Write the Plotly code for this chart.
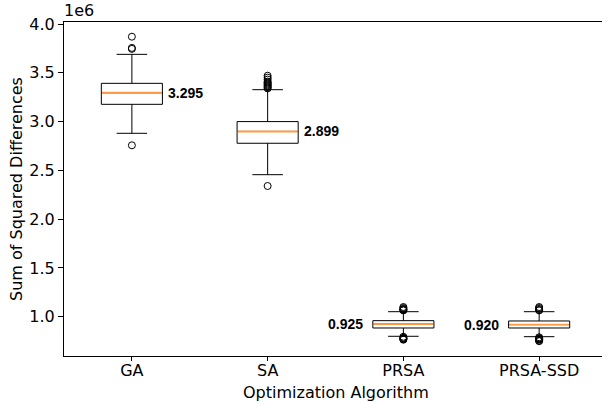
import plotly.graph_objects as go

# values in units of 1e6
algorithms = ["GA", "SA", "PRSA", "PRSA-SSD"]
positions = [1, 2, 3, 4]
q1 = [3.177, 2.778, 0.885, 0.885]
medians = [3.295, 2.899, 0.925, 0.920]
q3 = [3.392, 3.000, 0.960, 0.957]
lower_whisker = [2.880, 2.456, 0.800, 0.796]
upper_whisker = [3.689, 3.327, 1.052, 1.052]
median_labels = ["3.295", "2.899", "0.925", "0.920"]

outliers = {
    "GA": [3.870, 3.755, 3.745, 2.757],
    "SA": [3.47, 3.45, 3.43, 3.41, 3.40, 3.39, 3.38, 3.37, 3.36, 3.35, 3.34, 2.340],
    "PRSA": [1.10, 1.09, 1.08, 1.075, 1.07, 1.065, 0.795, 0.785, 0.78, 0.775, 0.77, 0.765],
    "PRSA-SSD": [1.10, 1.09, 1.08, 1.07, 1.065, 0.79, 0.78, 0.775, 0.77, 0.765, 0.755, 0.75],
}

BOX_W = 0.45
FONT = "DejaVu Sans"

fig = go.Figure()

fig.add_trace(go.Box(
    x=positions, q1=q1, median=medians, q3=q3,
    lowerfence=lower_whisker, upperfence=upper_whisker,
    width=BOX_W, whiskerwidth=0.5,
    line=dict(color="black", width=1), fillcolor="rgba(0,0,0,0)",
    boxpoints=False, hoverinfo="skip", showlegend=False,
))

mx, my = [], []
for p, m in zip(positions, medians):
    mx += [p - BOX_W / 2 + 0.004, p + BOX_W / 2 - 0.004, None]
    my += [m, m, None]
fig.add_trace(go.Scatter(x=mx, y=my, mode="lines",
                         line=dict(color="#ff9a45", width=1.9),
                         hoverinfo="skip", showlegend=False))

ox, oy = [], []
for p, name in zip(positions, algorithms):
    ox += [p] * len(outliers[name])
    oy += outliers[name]
fig.add_trace(go.Scatter(x=ox, y=oy, mode="markers",
                         marker=dict(symbol="circle-open", size=7, color="black",
                                     line=dict(width=1, color="black")),
                         hoverinfo="skip", showlegend=False))

for i, (p, m, lab) in enumerate(zip(positions, medians, median_labels)):
    if i < 2:
        fig.add_annotation(x=p + BOX_W / 2, y=m, text=f"<b>{lab}</b>", showarrow=False,
                           xanchor="left", yanchor="middle", xshift=4,
                           font=dict(family="Liberation Sans", size=14, color="black"))
    else:
        fig.add_annotation(x=p - BOX_W / 2, y=m, text=f"<b>{lab}</b>", showarrow=False,
                           xanchor="right", yanchor="middle", xshift=-8,
                           font=dict(family="Liberation Sans", size=14, color="black"))

fig.add_annotation(x=0, y=1, xref="paper", yref="paper", text="1e6", showarrow=False,
                   xanchor="left", yanchor="bottom", yshift=0, xshift=-2,
                   font=dict(family=FONT, size=16, color="black"))

# x-axis title
fig.add_annotation(x=(2.5 - 0.5) / (4.463 - 0.5), y=0, xref="paper", yref="paper",
                   text="Optimization Algorithm", showarrow=False,
                   xanchor="center", yanchor="middle", yshift=-36,
                   font=dict(family=FONT, size=16, color="black"))

fig.update_layout(
    width=602, height=402,
    margin=dict(l=64, r=0, t=22, b=46),
    paper_bgcolor="white", plot_bgcolor="white",
    font=dict(family=FONT, size=16, color="black"),
    boxmode="overlay",
    xaxis=dict(range=[0.5, 4.463], tickvals=positions, ticktext=algorithms,
               showline=True, mirror=True, linecolor="black", linewidth=1,
               ticks="outside", ticklen=4, tickcolor="black", showgrid=False, zeroline=False,
               ticklabelstandoff=-4),
    yaxis=dict(range=[0.598, 4.0205], tickvals=[1.0, 1.5, 2.0, 2.5, 3.0, 3.5, 4.0],
               tickformat=".1f",
               showline=True, mirror=False, linecolor="black", linewidth=1,
               ticks="outside", ticklen=5, tickcolor="black", showgrid=False, zeroline=False,
               title=dict(text="Sum of Squared Differences", standoff=2,
                          font=dict(family=FONT, size=16))),
)

fig.write_html("out.html")
